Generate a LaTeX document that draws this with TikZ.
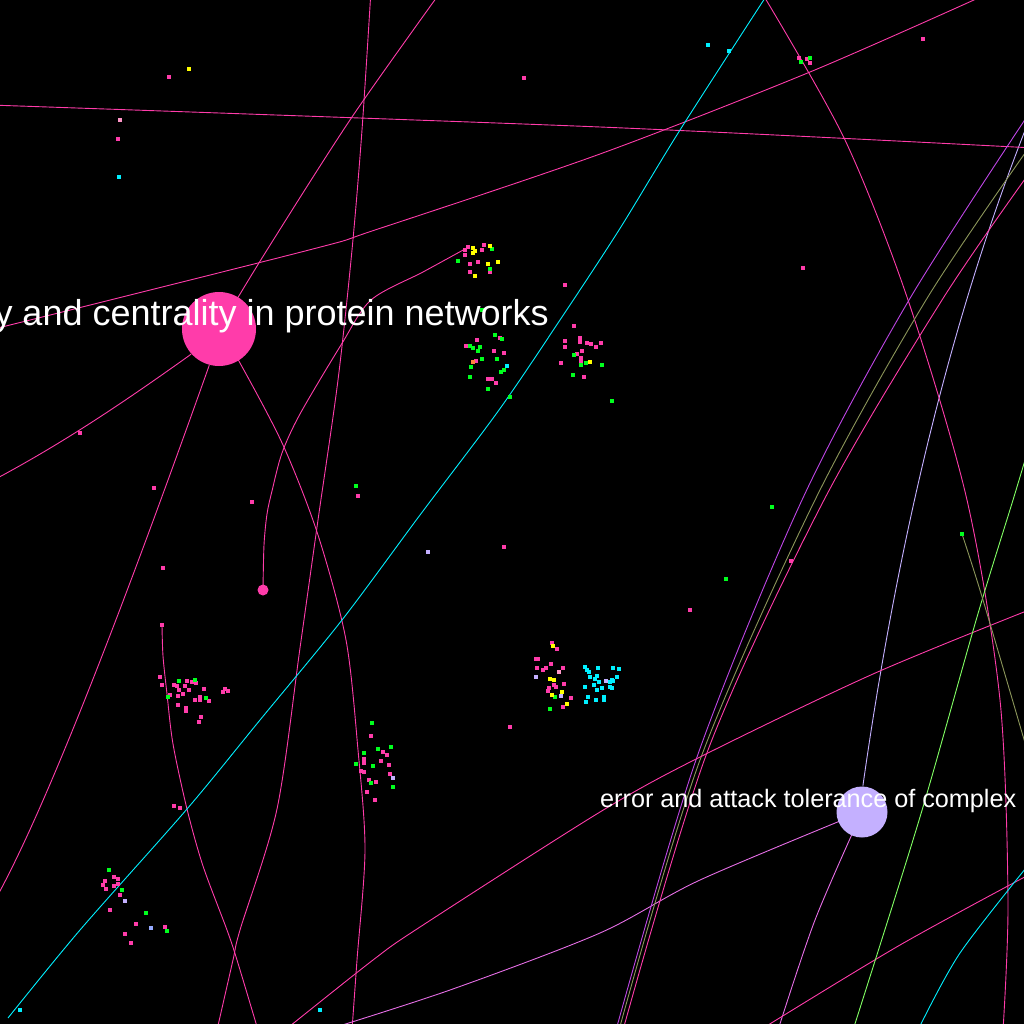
\documentclass[tikz,border=0pt]{standalone}
\usepackage{fontspec}
\setmainfont{Liberation Sans}
\pgfdeclarelayer{bg}
\pgfdeclarelayer{edges}
\pgfsetlayers{bg,edges,main}
\definecolor{pk}{RGB}{255,60,170}
\definecolor{gr}{RGB}{0,255,30}
\definecolor{yl}{RGB}{255,255,0}
\definecolor{cy}{RGB}{0,240,255}
\definecolor{lv}{RGB}{196,176,255}
\definecolor{lp}{RGB}{255,150,200}
\definecolor{vi}{RGB}{190,70,230}
\definecolor{ol}{RGB}{140,150,90}
\definecolor{lg}{RGB}{130,255,100}
\definecolor{mx}{RGB}{230,110,230}
\definecolor{orng}{RGB}{255,130,60}
\definecolor{lb}{RGB}{150,170,255}
\newcommand\putdots[2]{\foreach \px/\py in {#2} \fill[#1] (\px-1.75,\py-1.75) rectangle ++(3.5,3.5);}
\tikzset{
  link/.style={line width=0.9pt},
  bignode/.style={circle, inner sep=0pt},
  lbl/.style={text=white, inner sep=0pt}
}
\begin{document}
\begin{tikzpicture}[x=1pt,y=-1pt]
\useasboundingbox (0,0) rectangle (1024,1024);
\begin{pgfonlayer}{bg}
\fill[black] (0,0) rectangle (1024,1024);
\end{pgfonlayer}

% nodes
\node[bignode, fill=pk, minimum size=74pt] (A) at (219,329) {};
\node[bignode, fill=lv, minimum size=51pt] (B) at (862,812) {};
\node[bignode, fill=pk, minimum size=11pt] (D) at (263,590) {};
\coordinate (T1) at (765,-2);

\begin{pgfonlayer}{edges}
% edges of A
\draw[link,pk] plot[smooth] coordinates {(A) (267,250) (352,117) (442,-10)};
\draw[link,pk] (A) -- (190,355) .. controls (120,405) and (60,445) .. (-10,482);
\draw[link,pk] (A) -- (209,366) .. controls (116,628) and (46,805) .. (0,891) -- (-5,900);
\draw[link,pk] plot[smooth] coordinates {(A) (240,363) (283,445) (318,535) (346,640) (358,750) (365,850) (357,960) (352,1030)};
% edge of D
\draw[link,pk] plot[smooth] coordinates {(D) (264,545) (267,514) (272,491) (282,453) (300,414) (341,345) (371,300) (423,272) (465,249)};
% edges of B
\draw[link,lv] (B) -- (863,785) .. controls (899,532) and (953,315) .. (1024,133) -- (1030,118);
\draw[link,mx] plot[smooth] coordinates {(B) (700,880) (600,933) (450,990) (320,1032)};
\draw[link,mx] plot[smooth] coordinates {(B) (815,920) (778,1030)};
% other long links
\draw[link,pk] plot[smooth] coordinates {(-10,105) (600,127) (1034,148)};
\draw[link,pk] plot[smooth] coordinates {(985,-5) (810,72) (600,154) (375,230) (309,250) (-10,330)};
\draw[link,pk] plot[smooth] coordinates {(371,-10) (362,130) (352,250) (338,380) (318,520) (300,648) (277,809) (240,930) (233,960) (217,1030)};
\draw[link,pk] plot[smooth] coordinates {(162,625) (163,656) (167,694) (173,744) (187,809) (203,866) (227,930) (237,960) (258,1030)};
\draw[link,cy] plot[smooth] coordinates {(T1) (680,130) (619,230) (560,320) (499,410) (420,515) (342,620) (260,720) (187,809) (80,930) (8,1018)};
\draw[link,pk] plot[smooth] coordinates {(T1) (845,140) (908,300) (967,500) (1000,700) (1008,900) (1003,1030)};
\draw[link,vi] plot[smooth] coordinates {(1030,112) (909,300) (802,500) (697,757) (616,1030)};
\draw[link,ol] plot[smooth] coordinates {(1030,146) (926,300) (815,500) (700,760) (619,1030)};
\draw[link,pk] plot[smooth] coordinates {(1030,172) (942,300) (824,500) (708,750) (623,1030)};
\draw[link,pk] plot[smooth] coordinates {(1034,608) (873,674) (700,757) (600,812) (420,927) (373,960) (285,1030)};
\draw[link,pk] plot[smooth] coordinates {(1034,872) (900,945) (760,1030)};
\draw[link,cy] plot[smooth] coordinates {(1034,858) (960,953) (918,1030)};
\draw[link,lg] plot[smooth] coordinates {(1028,450) (1013,500) (977,617) (920,817) (853,1030)};
\draw[link,ol] plot[smooth] coordinates {(962,534) (983,600) (1030,760)};
\end{pgfonlayer}

% small nodes
\putdots{pk}{169/77, 118/139, 524/78, 799/58, 807/59, 810/63, 923/39, 803/268, 565/285,
 465/250, 468/247, 484/245, 482/250, 465/255, 470/264, 478/262, 490/272, 470/272,
 477/340, 500/338, 466/346, 494/351, 504/353, 476/361, 488/379, 492/379, 496/383,
 574/326, 580/338, 565/341, 580/342, 587/343, 591/344, 601/343, 596/347, 565/347, 582/351, 577/354, 581/358, 581/362, 561/363, 584/377,
 80/433, 154/488, 252/502, 163/568, 358/496, 504/547, 690/610, 791/561, 510/727,
 552/643, 557/649, 538/659, 536/659, 551/664, 563/668, 537/668, 546/668, 543/670, 564/684, 554/685, 549/688, 556/687, 548/691, 571/698, 563/707,
 162/625, 160/677, 162/685, 187/681, 192/682, 196/683, 174/685, 177/686, 185/686, 204/689, 179/690, 189/690, 183/694, 170/695, 178/696, 200/697, 200/700, 195/700, 209/701, 178/705, 186/708, 186/711, 201/717, 199/722, 225/689, 223/692, 228/691, 174/806, 180/808,
 371/736, 383/752, 387/755, 364/759, 364/763, 381/761, 389/765, 361/771, 364/772, 390/774, 369/780, 376/782, 367/792, 375/800,
 114/877, 118/879, 105/881, 103/885, 106/889, 114/886, 118/884, 120/895, 110/910, 136/924, 165/927, 125/934, 131/943}
\putdots{gr}{801/62, 810/58, 492/249, 458/261, 490/269,
 495/335, 502/339, 470/346, 473/348, 480/347, 478/351, 482/359, 497/359, 471/367, 504/370, 501/372, 470/377, 488/389, 510/397, 482/310,
 574/355, 581/365, 586/363, 602/365, 573/375, 612/401,
 356/486, 772/507, 726/579, 962/534, 555/697, 550/709,
 179/681, 195/680, 168/697, 206/698,
 372/723, 378/749, 391/747, 364/753, 356/764, 373/766, 371/783, 393/787,
 109/870, 122/890, 146/913, 167/931}
\putdots{yl}{189/69, 473/248, 475/251, 473/253, 490/246, 498/262, 475/276, 488/264, 553/646, 550/679, 554/680, 562/692, 552/695, 567/704, 590/362}
\putdots{cy}{119/177, 708/45, 729/51, 507/366, 20/1010, 320/1010,
 585/667, 587/670, 589/672, 598/668, 613/668, 619/669, 590/677, 597/676, 595/679, 599/682, 610/682, 612/680, 613/681, 617/677, 594/685, 602/688, 610/687, 612/688, 585/687, 597/690, 588/697, 596/700, 604/697, 604/700, 586/702}
\putdots{lv}{428/552, 536/677, 561/696, 606/681, 393/778, 125/901}
\putdots{lp}{120/120, 559/672}
\putdots{orng}{473/362}
\putdots{lb}{151/928}

% labels
\node[lbl, anchor=base east, font=\fontsize{36}{40}\selectfont] (LA) at (549,325) {y and centrality in protein networks};
\node[lbl, anchor=base west, font=\fontsize{25.2}{28}\selectfont] (LB) at (600,807) {error and attack tolerance of complex};
\end{tikzpicture}
\end{document}
